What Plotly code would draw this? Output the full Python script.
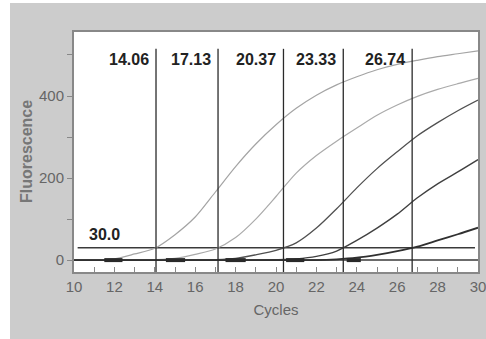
import plotly.graph_objects as go

cycles = list(range(10, 31))
curve1 = [0, 0, 3, 15, 29, 62, 105, 166, 228, 283, 330, 370, 402, 427, 447, 464, 477, 487, 496, 503, 510]
curve2 = [0, 0, 0, 0, 1, 4, 14, 27, 55, 100, 155, 212, 255, 290, 322, 353, 378, 399, 416, 430, 443]
curve3 = [0, 0, 0, 0, 0, 0, 0, 1, 4, 13, 24, 42, 78, 125, 176, 223, 264, 303, 335, 364, 390]
curve4 = [0, 0, 0, 0, 0, 0, 0, 0, 0, 0, 1, 3, 9, 22, 48, 78, 112, 152, 186, 215, 245]
curve5 = [0, 0, 0, 0, 0, 0, 0, 0, 0, 0, 0, 0, 0, 2, 6, 13, 22, 33, 48, 63, 79]
ct_values = [14.06, 17.13, 20.37, 23.33, 26.74]
ct_labels = ["14.06", "17.13", "20.37", "23.33", "26.74"]
threshold = 30.0
threshold_label = "30.0"
baseline_start = [11.5, 14.55, 17.5, 20.5, 23.5]
baseline_end = [12.4, 15.5, 18.5, 21.4, 24.2]
y_title = "Fluorescence"
x_title = "Cycles"

curves = [curve1, curve2, curve3, curve4, curve5]
colors = ["#a4a4a4", "#aaaaaa", "#505050", "#404040", "#303030"]
widths = [1.2, 1.2, 1.3, 1.4, 1.8]

FONT = "Liberation Sans, Arial, sans-serif"

fig = go.Figure()

# zero baseline
fig.add_trace(go.Scatter(x=[10, 30], y=[0, 0], mode="lines",
                         line=dict(color="#3a3a3a", width=1.5), hoverinfo="skip"))
# threshold line
fig.add_trace(go.Scatter(x=[10.18, 29.85], y=[threshold, threshold], mode="lines",
                         line=dict(color="#3a3a3a", width=1.5), hoverinfo="skip"))

for c, col, w in zip(curves, colors, widths):
    fig.add_trace(go.Scatter(x=cycles, y=c, mode="lines",
                             line=dict(color=col, width=w, shape="spline", smoothing=0.8),
                             hoverinfo="skip"))

# thick baseline segments
bx, by = [], []
for s, e in zip(baseline_start, baseline_end):
    bx += [s, e, None]
    by += [0, 0, None]
fig.add_trace(go.Scatter(x=bx, y=by, mode="lines",
                         line=dict(color="#2a2a2a", width=4), hoverinfo="skip"))

# Ct vertical lines
vx, vy = [], []
for ct in ct_values:
    vx += [ct, ct, None]
    vy += [-29, 515, None]
fig.add_trace(go.Scatter(x=vx, y=vy, mode="lines",
                         line=dict(color="#2a2a2a", width=1.3), hoverinfo="skip"))

annotations = []
for ct, lab in zip(ct_values, ct_labels):
    annotations.append(dict(x=ct, y=488, text="<b>" + lab + "</b>", showarrow=False,
                            xanchor="right", yanchor="middle", xshift=-5,
                            font=dict(family=FONT, size=16, color="#222222")))
annotations.append(dict(x=10.63, y=63, text="<b>" + threshold_label + "</b>", showarrow=False,
                        xanchor="left", yanchor="middle",
                        font=dict(family=FONT, size=16, color="#222222")))
annotations.append(dict(xref="paper", yref="paper", x=-48/404, y=0.5, text="<b>" + y_title + "</b>",
                        textangle=-90, showarrow=False, xanchor="center", yanchor="middle",
                        font=dict(family=FONT, size=16, color="#777777")))

fig.update_layout(
    width=486, height=339,
    margin=dict(l=74, r=8, t=32, b=67, autoexpand=False),
    paper_bgcolor="#cccccc",
    plot_bgcolor="#ffffff",
    showlegend=False,
    annotations=annotations,
    shapes=[
        dict(type="rect", xref="paper", yref="paper", x0=-74/404, x1=-64/404,
             y0=-67/240, y1=307/240, fillcolor="#ffffff", line=dict(width=0), layer="above"),
        dict(type="rect", xref="paper", yref="paper", x0=-74/404, x1=412/404,
             y0=269/240, y1=307/240, fillcolor="#ffffff", line=dict(width=0), layer="above"),
    ],
    xaxis=dict(range=[10, 30], dtick=2, tick0=10, ticks="inside", ticklen=5,
               tickcolor="#888888", showline=True, linecolor="#888888", linewidth=2,
               mirror=True, showgrid=False, zeroline=False, automargin=False,
               ticklabeloverflow="allow",
               tickfont=dict(family=FONT, size=15, color="#666666"),
               minor=dict(dtick=1, ticks="inside", ticklen=5, tickcolor="#888888", showgrid=False),
               title=dict(text=x_title, font=dict(family=FONT, size=15, color="#666666"),
                          standoff=10)),
    yaxis=dict(range=[-29, 556], dtick=200, tick0=0, ticks="outside", ticklen=5,
               tickcolor="#888888", showline=True, linecolor="#888888", linewidth=2,
               mirror=True, showgrid=False, zeroline=False, automargin=False,
               tickfont=dict(family=FONT, size=15, color="#666666"),
               minor=dict(dtick=100, ticks="outside", ticklen=5, tickcolor="#888888", showgrid=False)),
)

fig.write_html("out.html",
               config={"displayModeBar": False},
               post_script="document.body.style.margin='0';document.body.style.padding='0';"
                           "document.body.style.overflow='hidden';")
